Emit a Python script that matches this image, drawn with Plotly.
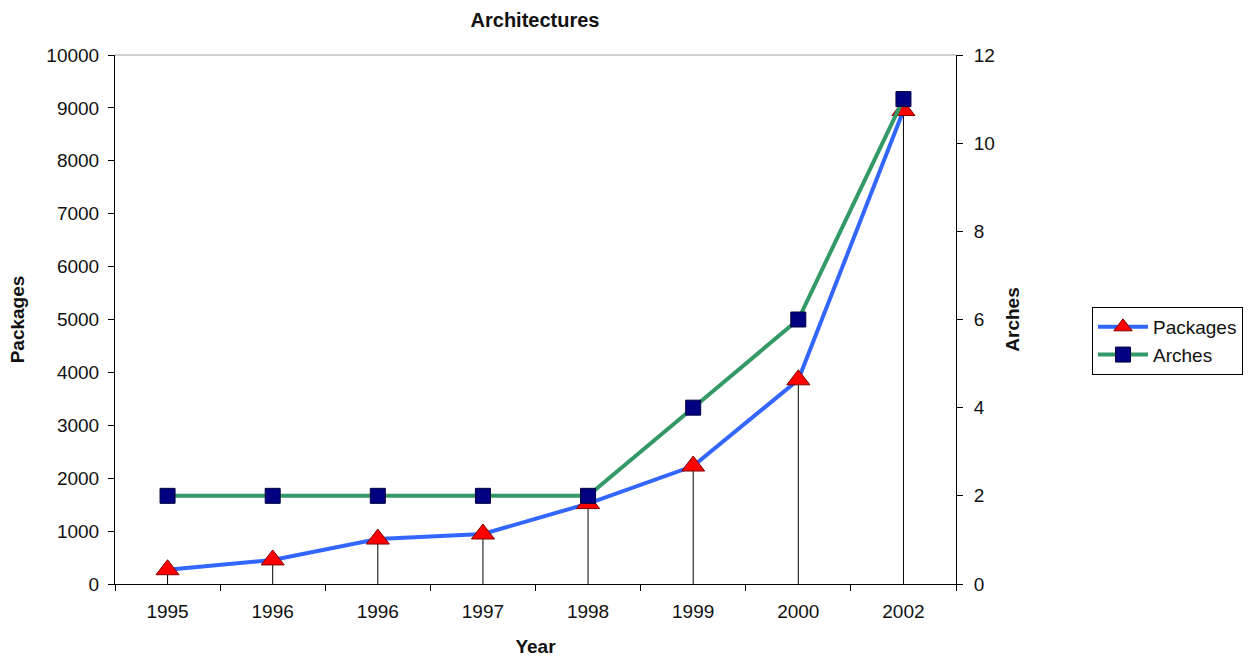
import plotly.graph_objects as go

years = ["1995", "1996", "1996", "1997", "1998", "1999", "2000", "2002"]
packages = [270, 455, 850, 945, 1520, 2230, 3860, 8950]
arches = [2, 2, 2, 2, 2, 4, 6, 11]

idx = list(range(len(years)))
FONT = "Liberation Sans, Arial, sans-serif"

fig = go.Figure()
fig.add_trace(go.Scatter(
    x=idx, y=packages, name="Packages", mode="lines+markers",
    line=dict(color="#3366FF", width=4),
    marker=dict(symbol="triangle-up", size=20, color="#FF0000",
                line=dict(color="#800000", width=1)),
    error_y=dict(type="data", symmetric=False, array=[0] * len(packages),
                 arrayminus=packages, color="black", thickness=1, width=0),
))
fig.add_trace(go.Scatter(
    x=idx, y=arches, name="Arches", mode="lines+markers", yaxis="y2",
    line=dict(color="#339966", width=4),
    marker=dict(symbol="square", size=15, color="#000080",
                line=dict(color="#000040", width=1)),
))

fig.update_layout(
    width=1252, height=657,
    margin=dict(l=115, r=296, t=55, b=73, autoexpand=False),
    paper_bgcolor="white", plot_bgcolor="white",
    font=dict(family=FONT, size=19, color="#111111"),
    title=dict(text="<b>Architectures</b>", x=535 / 1252, xanchor="center",
               y=1 - 20 / 657, yanchor="middle", font=dict(size=20)),
    showlegend=True,
    legend=dict(x=1092 / 1252, xref="container", xanchor="left",
                y=1 - 307 / 657, yref="container", yanchor="top",
                bordercolor="black", borderwidth=1, bgcolor="white",
                font=dict(size=19), tracegroupgap=0, itemwidth=50),
    xaxis=dict(
        range=[-0.5, len(years) - 0.5], tickvals=idx, ticktext=years,
        showgrid=False, zeroline=False, showline=True, linecolor="black",
        linewidth=1, ticks="", tickfont=dict(size=19), ticklabelstandoff=10,
        minor=dict(ticks="outside", tick0=-0.5, dtick=1, ticklen=6,
                   tickcolor="black", showgrid=False),
        title=dict(text="<b>Year</b>", font=dict(size=19), standoff=20),
    ),
    yaxis=dict(
        range=[0, 10000], dtick=1000, tickformat="d", showgrid=False,
        zeroline=False, showline=True, linecolor="black", linewidth=1,
        ticks="outside", ticklen=6, tickcolor="black", tickfont=dict(size=19),
        ticklabelstandoff=5,
        title=dict(text="<b>Packages</b>", font=dict(size=19), standoff=16),
    ),
    yaxis2=dict(
        range=[0, 12], dtick=2, overlaying="y", side="right", showgrid=False,
        zeroline=False, showline=True, linecolor="black", linewidth=1,
        ticks="outside", ticklen=6, tickcolor="black", tickfont=dict(size=19),
        ticklabelstandoff=7,
        title=dict(text="<b>Arches</b>", font=dict(size=19), standoff=11),
    ),
    shapes=[dict(type="line", xref="paper", yref="paper", x0=0, x1=1, y0=1, y1=1,
                 line=dict(color="#A0A0A0", width=1), layer="below")],
)

fig.write_html("out.html")
